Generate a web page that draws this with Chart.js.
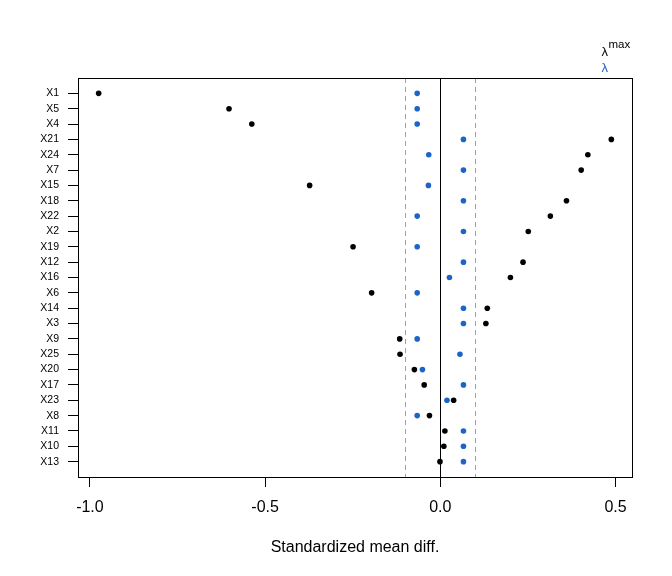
<!DOCTYPE html>
<html>
<head>
<meta charset="utf-8">
<script src="https://cdn.jsdelivr.net/npm/chart.js@4.4.1/dist/chart.umd.min.js"></script>
<style>
  html, body { margin: 0; padding: 0; background: #fff; }
  #wrap { width: 672px; height: 576px; }
</style>
</head>
<body>
<div id="wrap"><canvas id="smdChart" width="672" height="576"></canvas></div>
<script>
// covariates, top to bottom
const covariates = ['X1', 'X5', 'X4', 'X21', 'X24', 'X7', 'X15', 'X18', 'X22', 'X2', 'X19', 'X12', 'X16',
    'X6', 'X14', 'X3', 'X9', 'X25', 'X20', 'X17', 'X23', 'X8', 'X11', 'X10', 'X13'];

// standardized mean differences at lambda max (black)
const smdLambdaMax = [-0.975, -0.603, -0.538, 0.488, 0.421, 0.402, -0.373, 0.360, 0.314, 0.251, -0.249, 0.236, 0.200,
    -0.196, 0.134, 0.130, -0.116, -0.115, -0.074, -0.046, 0.038, -0.031, 0.013, 0.010, -0.001];

// standardized mean differences at chosen lambda (blue)
const smdLambda = [-0.066, -0.066, -0.066, 0.066, -0.033, 0.066, -0.034, 0.066, -0.066, 0.066, -0.066, 0.066, 0.026,
    -0.066, 0.066, 0.066, -0.066, 0.056, -0.051, 0.066, 0.019, -0.066, 0.066, 0.066, 0.066];

const xTicks = [-1.0, -0.5, 0.0, 0.5];
const thresholds = [-0.1, 0.1];

const FONT = "'Liberation Sans', Arial, Helvetica, sans-serif";
const BLUE = '#1c64c8';

const toPoints = vals => vals.map((v, i) => ({ x: v, y: i + 1 }));

// vertical reference lines + frame + lambda labels
const decorPlugin = {
    id: 'decor',
    beforeDatasetsDraw(chart) {
        const { ctx, chartArea: a, scales: { x } } = chart;
        ctx.save();
        ctx.lineWidth = 1;
        ctx.strokeStyle = '#a0a0a0';
        ctx.setLineDash([5, 4]);
        thresholds.forEach(t => {
            const px = Math.round(x.getPixelForValue(t)) + 0.5;
            ctx.beginPath();
            ctx.moveTo(px, a.top);
            ctx.lineTo(px, a.bottom);
            ctx.stroke();
        });
        ctx.setLineDash([]);
        ctx.strokeStyle = '#000';
        const z = Math.round(x.getPixelForValue(0)) + 0.5;
        ctx.beginPath();
        ctx.moveTo(z, a.top);
        ctx.lineTo(z, a.bottom);
        ctx.stroke();
        ctx.restore();
    },
    afterDraw(chart) {
        const { ctx, chartArea: a } = chart;
        ctx.save();
        ctx.strokeStyle = '#000';
        ctx.lineWidth = 1;
        ctx.strokeRect(Math.round(a.left) + 0.5, Math.round(a.top) + 0.5,
            Math.round(a.right - a.left), Math.round(a.bottom - a.top));

        // legend text above the frame, right side
        const lx = a.right - 30.5;
        ctx.textBaseline = 'alphabetic';
        ctx.textAlign = 'left';
        ctx.font = '13px ' + FONT;
        ctx.fillStyle = '#000';
        ctx.fillText('λ', lx, a.top - 22);
        const w = ctx.measureText('λ').width;
        ctx.font = '11.5px ' + FONT;
        ctx.fillText('max', lx + w + 0.5, a.top - 30);
        ctx.font = '13px ' + FONT;
        ctx.fillStyle = BLUE;
        ctx.fillText('λ', lx, a.top - 6.5);
        ctx.restore();
    }
};

new Chart(document.getElementById('smdChart'), {
    type: 'scatter',
    data: {
        datasets: [
            {
                label: 'λmax',
                data: toPoints(smdLambdaMax),
                backgroundColor: '#000',
                borderWidth: 0,
                pointRadius: 2.8,
                pointHoverRadius: 2.8
            },
            {
                label: 'λ',
                data: toPoints(smdLambda),
                backgroundColor: BLUE,
                borderWidth: 0,
                pointRadius: 2.8,
                pointHoverRadius: 2.8
            }
        ]
    },
    options: {
        responsive: false,
        animation: false,
        devicePixelRatio: 1,
        layout: { padding: { top: 78, right: 40, left: 0, bottom: 0 } },
        plugins: { legend: { display: false }, tooltip: { enabled: false } },
        scales: {
            x: {
                type: 'linear',
                min: -1.034,
                max: 0.547,
                afterBuildTicks: s => { s.ticks = xTicks.map(v => ({ value: v })); },
                afterFit: s => { s.height = 99; },
                border: { display: false },
                grid: { drawOnChartArea: false, drawTicks: true, tickLength: 10, color: '#000' },
                ticks: {
                    color: '#000',
                    font: { family: FONT, size: 16 },
                    padding: 11,
                    maxRotation: 0,
                    callback: v => v.toFixed(1)
                },
                title: {
                    display: true,
                    text: 'Standardized mean diff.',
                    color: '#000',
                    font: { family: FONT, size: 16 },
                    padding: { top: 0, bottom: 19 }
                }
            },
            y: {
                type: 'linear',
                reverse: true,
                min: 0,
                max: 26,
                afterBuildTicks: s => { s.ticks = covariates.map((c, i) => ({ value: i + 1 })); },
                afterFit: s => { s.width = 78; },
                border: { display: false },
                grid: { drawOnChartArea: false, drawTicks: true, tickLength: 10, color: '#000' },
                ticks: {
                    color: '#000',
                    font: { family: FONT, size: 10.5 },
                    padding: 9,
                    autoSkip: false,
                    callback: v => covariates[v - 1]
                }
            }
        }
    },
    plugins: [decorPlugin]
});
</script>
</body>
</html>
